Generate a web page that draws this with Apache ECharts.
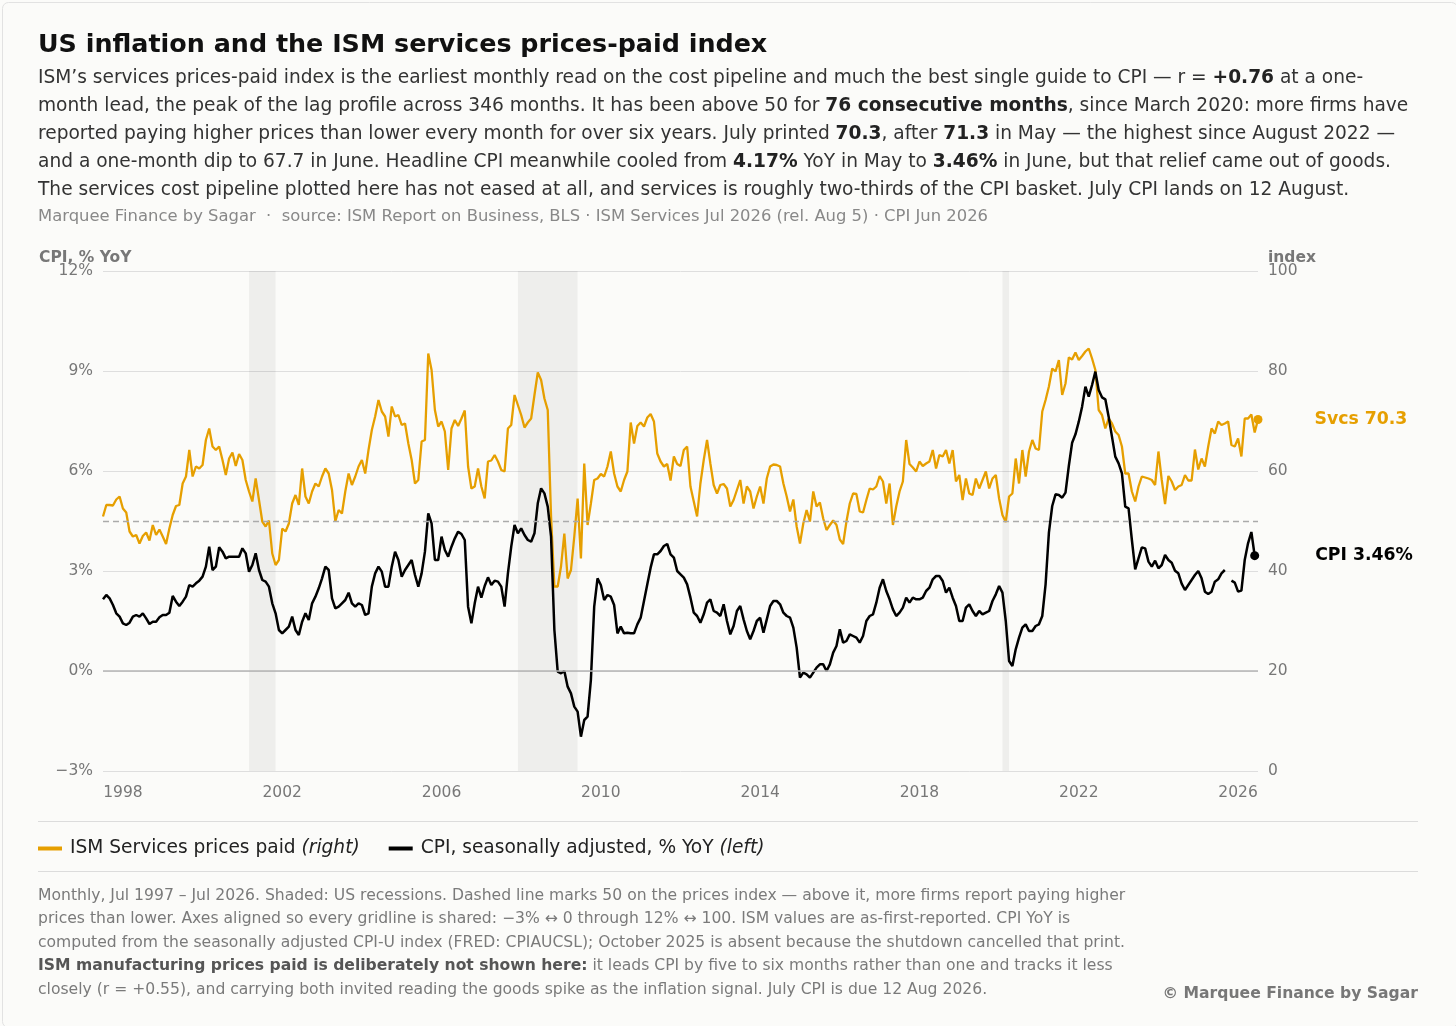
<!DOCTYPE html>
<html>
<head>
<meta charset="utf-8">
<title>US inflation and the ISM services prices-paid index</title>
<script src="https://cdn.jsdelivr.net/npm/echarts@6/dist/echarts.min.js"></script>
<style>
  html, body { margin: 0; padding: 0; background: #fbfbf9; }
  #chart { width: 1456px; height: 1026px; }
</style>
</head>
<body>
<div id="chart"></div>
<script>
// monthly, Jul 1997 .. Jul 2026
const firstYear = 1997, firstMonth = 7, monthCount = 349;

// ISM services prices paid index (right axis), one row per calendar year
const ism = [
  50.9, 53.2, 53.2, 53.1, 54.3, 54.9,
  52.5, 51.7, 47.9, 46.9, 47.2, 45.5, 47.0, 47.7, 46.1, 49.2, 47.2, 48.3,
  46.9, 45.4, 48.5, 51.2, 53.0, 53.2, 57.5, 58.9, 64.2, 58.9, 60.9, 60.5,
  61.2, 66.2, 68.5, 64.9, 64.2, 64.9, 62.2, 59.2, 62.5, 63.7, 61.0, 63.4,
  62.2, 58.2, 55.9, 53.9, 58.5, 54.2, 49.9, 48.9, 50.1, 43.5, 41.2, 42.2,
  48.5, 47.9, 49.5, 53.5, 55.2, 53.2, 60.5, 54.9, 53.5, 55.9, 57.5, 56.9,
  58.9, 60.5, 59.5, 56.2, 49.9, 52.2, 51.5, 55.9, 59.5, 57.2, 58.9, 60.9,
  62.2, 59.5, 64.2, 68.2, 70.9, 74.2, 71.9, 70.9, 66.9, 72.9, 70.9, 71.2,
  69.2, 69.5, 65.5, 62.2, 57.5, 58.2, 65.9, 66.2, 83.5, 80.2, 72.2, 68.9,
  69.9, 67.9, 60.2, 68.5, 70.2, 69.0, 70.5, 72.1, 60.9, 56.5, 56.9, 60.5,
  56.9, 54.5, 61.9, 62.1, 63.2, 61.9, 60.2, 59.9, 68.5, 69.2, 75.2, 73.2,
  71.2, 68.7, 69.7, 70.5, 75.2, 79.7, 78.2, 74.5, 72.2, 50.9, 36.9, 36.9,
  40.9, 47.5, 38.5, 40.2, 46.9, 54.5, 42.5, 61.5, 49.2, 53.5, 58.2, 58.5,
  59.4, 58.9, 60.9, 63.9, 59.5, 56.9, 55.9, 58.2, 59.9, 69.7, 65.5, 69.0,
  69.7, 68.9, 70.7, 71.4, 69.9, 63.5, 61.9, 60.9, 61.4, 58.1, 62.9, 61.4,
  61.0, 64.2, 64.9, 56.9, 53.9, 50.9, 57.5, 62.2, 66.2, 61.5, 57.2, 55.5,
  57.2, 57.4, 56.5, 52.9, 54.2, 56.2, 58.2, 53.5, 56.9, 55.9, 52.5, 54.9,
  56.9, 53.5, 58.5, 60.9, 61.3, 61.2, 60.9, 57.5, 54.9, 51.9, 54.3, 48.9,
  45.5, 49.5, 52.2, 49.9, 55.9, 52.9, 53.7, 50.5, 48.2, 49.2, 50.1, 49.2,
  46.3, 45.4, 49.9, 53.5, 55.5, 55.4, 51.9, 51.7, 54.2, 56.5, 56.3, 56.9,
  59.0, 57.9, 53.5, 57.5, 49.2, 52.9, 55.9, 57.9, 66.2, 61.4, 60.7, 59.9,
  61.9, 61.0, 61.5, 61.9, 64.2, 60.5, 63.2, 62.9, 64.2, 61.5, 64.2, 57.9,
  59.2, 54.2, 58.5, 55.5, 55.2, 58.5, 56.5, 58.2, 59.9, 56.5, 58.5, 59.2,
  54.5, 51.2, 49.8, 54.9, 55.5, 62.5, 57.5, 64.2, 58.9, 63.9, 66.2, 64.5,
  64.2, 71.9, 74.2, 76.9, 80.5, 79.9, 82.2, 75.2, 77.5, 82.7, 82.3, 83.7,
  82.2, 83.0, 83.9, 84.5, 82.5, 80.2, 72.2, 71.2, 68.5, 70.5, 69.5, 67.9,
  67.2, 64.9, 59.5, 59.5, 55.9, 53.9, 56.9, 58.9, 58.7, 58.5, 58.2, 57.2,
  63.9, 58.2, 53.4, 59.0, 57.9, 56.2, 56.9, 57.2, 59.2, 58.1, 58.1, 64.3,
  60.3, 62.5, 60.9, 64.9, 68.5, 67.5, 69.9, 69.2, 69.5, 69.9, 65.2, 64.9,
  66.5, 62.9, 70.5, 70.5, 71.3, 67.7, 70.3
];

// CPI, seasonally adjusted, % YoY (left axis); Oct 2025 missing, Jul 2026 not yet out
const cpi = [
  2.15, 2.28, 2.18, 1.98, 1.73, 1.63,
  1.43, 1.38, 1.45, 1.63, 1.68, 1.63, 1.73, 1.58, 1.41, 1.48, 1.48, 1.61,
  1.68, 1.68, 1.75, 2.25, 2.08, 1.95, 2.08, 2.23, 2.58, 2.53, 2.63, 2.71,
  2.83, 3.13, 3.73, 3.03, 3.13, 3.71, 3.58, 3.38, 3.43, 3.43, 3.43, 3.43,
  3.68, 3.53, 2.98, 3.18, 3.53, 3.03, 2.73, 2.68, 2.53, 2.03, 1.73, 1.23,
  1.13, 1.23, 1.33, 1.63, 1.23, 1.08, 1.48, 1.73, 1.53, 2.03, 2.23, 2.48,
  2.78, 3.13, 3.03, 2.18, 1.88, 1.93, 2.03, 2.13, 2.35, 2.03, 1.93, 2.03,
  1.98, 1.68, 1.73, 2.53, 2.93, 3.13, 2.98, 2.53, 2.53, 3.13, 3.58, 3.33,
  2.83, 3.03, 3.18, 3.33, 2.88, 2.53, 2.93, 3.58, 4.73, 4.43, 3.33, 3.33,
  4.03, 3.63, 3.43, 3.73, 3.98, 4.18, 4.11, 3.93, 1.93, 1.43, 2.03, 2.53,
  2.20, 2.55, 2.81, 2.58, 2.71, 2.68, 2.53, 1.93, 2.93, 3.73, 4.38, 4.13,
  4.28, 4.08, 3.93, 3.88, 4.13, 5.03, 5.48, 5.33, 4.93, 4.03, 1.23, -0.02,
  -0.07, 0.00, -0.47, -0.67, -1.07, -1.22, -1.97, -1.47, -1.37, -0.27, 1.93, 2.78,
  2.58, 2.13, 2.28, 2.23, 1.98, 1.13, 1.33, 1.13, 1.15, 1.13, 1.13, 1.40,
  1.60, 2.10, 2.60, 3.10, 3.50, 3.50, 3.60, 3.75, 3.81, 3.50, 3.40, 3.00,
  2.90, 2.80, 2.60, 2.20, 1.75, 1.65, 1.45, 1.70, 2.05, 2.15, 1.80, 1.75,
  1.65, 2.00, 1.50, 1.10, 1.35, 1.80, 1.95, 1.55, 1.20, 0.95, 1.20, 1.50,
  1.60, 1.15, 1.55, 1.95, 2.10, 2.10, 2.00, 1.75, 1.65, 1.60, 1.30, 0.70,
  -0.20, -0.05, -0.10, -0.20, -0.05, 0.10, 0.20, 0.20, 0.00, 0.20, 0.55, 0.75,
  1.25, 0.85, 0.90, 1.10, 1.05, 1.00, 0.85, 1.05, 1.50, 1.65, 1.70, 2.05,
  2.50, 2.75, 2.40, 2.15, 1.85, 1.65, 1.75, 1.90, 2.20, 2.05, 2.20, 2.15,
  2.15, 2.20, 2.40, 2.50, 2.75, 2.85, 2.85, 2.70, 2.35, 2.50, 2.20, 1.95,
  1.50, 1.50, 1.90, 2.00, 1.80, 1.65, 1.80, 1.70, 1.75, 1.80, 2.10, 2.30,
  2.55, 2.35, 1.50, 0.30, 0.15, 0.65, 1.00, 1.30, 1.40, 1.20, 1.20, 1.35,
  1.40, 1.65, 2.60, 4.15, 4.95, 5.30, 5.28, 5.20, 5.35, 6.15, 6.85, 7.10,
  7.48, 7.93, 8.53, 8.23, 8.58, 8.98, 8.43, 8.21, 8.15, 7.63, 7.03, 6.43,
  6.23, 5.93, 4.93, 4.88, 3.93, 3.05, 3.38, 3.71, 3.68, 3.28, 3.13, 3.31,
  3.08, 3.18, 3.48, 3.33, 3.25, 3.01, 2.93, 2.62, 2.43, 2.58, 2.73, 2.88,
  3.00, 2.78, 2.38, 2.31, 2.38, 2.68, 2.75, 2.93, 3.03, null, 2.71, 2.65,
  2.38, 2.41, 3.33, 3.83, 4.17, 3.46, null
];

// US recessions (start, end month)
const recessions = [['2001-03', '2001-11'], ['2007-12', '2009-06'], ['2020-02', '2020-04']];

const cpiTicks = [-3, 0, 3, 6, 9, 12];
const ismTicks = [0, 20, 40, 60, 80, 100];

const months = [];
for (let k = 0; k < monthCount; k++) {
  const m0 = firstMonth - 1 + k;
  const y = firstYear + Math.floor(m0 / 12);
  const m = (m0 % 12) + 1;
  months.push(y + '-' + (m < 10 ? '0' : '') + m);
}

const ORANGE = '#E69F00';
const FONT = 'DejaVu Sans';

let lastCpiIdx = cpi.length - 1;
while (cpi[lastCpiIdx] == null) lastCpiIdx--;
const lastIsmIdx = ism.length - 1;

const chart = echarts.init(document.getElementById('chart'), null, { renderer: 'canvas' });

const paragraph = [
  'ISM\u2019s services prices-paid index is the earliest monthly read on the cost pipeline and much the best single guide to CPI \u2014 r = {b|+0.76} at a one-',
  'month lead, the peak of the lag profile across 346 months. It has been above 50 for {b|76 consecutive months}, since March 2020: more firms have',
  'reported paying higher prices than lower every month for over six years. July printed {b|70.3}, after {b|71.3} in May \u2014 the highest since August 2022 \u2014',
  'and a one-month dip to 67.7 in June. Headline CPI meanwhile cooled from {b|4.17%} YoY in May to {b|3.46%} in June, but that relief came out of goods.',
  'The services cost pipeline plotted here has not eased at all, and services is roughly two-thirds of the CPI basket. July CPI lands on 12 August.'
].join('\n');

const footnote = [
  'Monthly, Jul 1997 \u2013 Jul 2026. Shaded: US recessions. Dashed line marks 50 on the prices index \u2014 above it, more firms report paying higher',
  'prices than lower. Axes aligned so every gridline is shared: \u22123% \u2194 0 through 12% \u2194 100. ISM values are as-first-reported. CPI YoY is',
  'computed from the seasonally adjusted CPI-U index (FRED: CPIAUCSL); October 2025 is absent because the shutdown cancelled that print.',
  '{b|ISM manufacturing prices paid is deliberately not shown here:} it leads CPI by five to six months rather than one and tracks it less',
  'closely (r = +0.55), and carrying both invited reading the goods spike as the inflation signal. July CPI is due 12 Aug 2026.'
].join('\n');

chart.setOption({
  animation: false,
  backgroundColor: '#fbfbf9',
  textStyle: { fontFamily: FONT },
  grid: { left: 103, right: 198, top: 271, bottom: 255, containLabel: false },
  legend: {
    left: 38,
    top: 839,
    padding: 0,
    itemWidth: 24,
    itemHeight: 4,
    itemGap: 29,
    icon: 'rect',
    data: ['ISM Services prices paid', 'CPI, seasonally adjusted, % YoY'],
    formatter: function (name) {
      return '{n|' + name + '} {i|' + (name.indexOf('ISM') === 0 ? '(right)' : '(left)') + '}';
    },
    textStyle: {
      fontSize: 18.6,
      color: '#222',
      rich: {
        n: { fontSize: 18.6, color: '#222', fontFamily: FONT, padding: [0, 0, 0, 3] },
        i: { fontSize: 18.6, color: '#222', fontStyle: 'italic', fontFamily: FONT }
      }
    }
  },
  xAxis: {
    type: 'category',
    data: months,
    boundaryGap: false,
    axisLine: { show: false },
    axisTick: { show: false },
    splitLine: { show: false },
    axisLabel: {
      color: '#777',
      fontSize: 15.5,
      margin: 14,
      interval: function (idx, val) {
        return val.slice(5) === '01' && (parseInt(val.slice(0, 4), 10) - 1998) % 4 === 0;
      },
      formatter: function (val) { return val.slice(0, 4); }
    }
  },
  yAxis: [
    {
      type: 'value',
      position: 'left',
      min: cpiTicks[0],
      max: cpiTicks[cpiTicks.length - 1],
      interval: 3,
      axisLine: { show: false },
      axisTick: { show: false },
      axisLabel: {
        color: '#777',
        fontSize: 15.5,
        margin: 10,
        padding: [3, 0, 0, 0],
        formatter: function (v) { return (v < 0 ? '\u2212' : '') + Math.abs(v) + '%'; }
      },
      splitLine: { show: true, lineStyle: { color: '#dedede', width: 1 } }
    },
    {
      type: 'value',
      position: 'right',
      min: ismTicks[0],
      max: ismTicks[ismTicks.length - 1],
      interval: 20,
      axisLine: { show: false },
      axisTick: { show: false },
      axisLabel: { color: '#777', fontSize: 15.5, margin: 10, padding: [3, 0, 0, 0] },
      splitLine: { show: false }
    }
  ],
  series: [
    {
      name: 'ISM Services prices paid',
      type: 'line',
      yAxisIndex: 1,
      data: ism,
      showSymbol: false,
      color: ORANGE,
      lineStyle: { color: ORANGE, width: 2.3 },
      z: 3,
      markArea: {
        silent: true,
        itemStyle: { color: 'rgba(0,0,0,0.05)' },
        data: recessions.map(r => [{ xAxis: r[0] }, { xAxis: r[1] }])
      },
      markLine: {
        silent: true,
        symbol: 'none',
        label: { show: false },
        lineStyle: { color: '#aaa', width: 1.3, type: [6, 4] },
        data: [{ yAxis: 50 }]
      },
      markPoint: {
        silent: true,
        symbol: 'circle',
        symbolSize: 9,
        itemStyle: { color: ORANGE },
        label: {
          show: true,
          position: 'right',
          distance: 52,
          color: ORANGE,
          fontWeight: 'bold',
          fontSize: 17.3,
          formatter: 'Svcs ' + ism[lastIsmIdx].toFixed(1)
        },
        data: [{ coord: [months[lastIsmIdx], ism[lastIsmIdx]] }]
      }
    },
    {
      name: 'CPI, seasonally adjusted, % YoY',
      type: 'line',
      yAxisIndex: 0,
      data: cpi,
      connectNulls: false,
      showSymbol: false,
      color: '#000',
      lineStyle: { color: '#000', width: 2.5 },
      z: 4,
      markLine: {
        silent: true,
        symbol: 'none',
        label: { show: false },
        lineStyle: { color: '#b5b5b5', width: 1.6, type: 'solid' },
        data: [{ yAxis: 0 }]
      },
      markPoint: {
        silent: true,
        symbol: 'circle',
        symbolSize: 9,
        itemStyle: { color: '#000' },
        label: {
          show: true,
          position: 'right',
          distance: 56,
          color: '#000',
          fontWeight: 'bold',
          fontSize: 17.3,
          formatter: 'CPI ' + cpi[lastCpiIdx].toFixed(2) + '%'
        },
        data: [{ coord: [months[lastCpiIdx], cpi[lastCpiIdx]] }]
      }
    }
  ],
  graphic: [
    {
      type: 'text', left: 38, top: 33,
      style: { text: 'US inflation and the ISM services prices-paid index', font: 'bold 25.4px "DejaVu Sans"', fill: '#111' }
    },
    {
      type: 'text', left: 38, top: 64,
      style: {
        text: paragraph,
        font: '18.6px "DejaVu Sans"',
        fill: '#333',
        lineHeight: 28,
        rich: {
          b: { font: 'bold 18.6px "DejaVu Sans"', fill: '#222', lineHeight: 28 }
        }
      }
    },
    {
      type: 'text', left: 38, top: 209,
      style: {
        text: 'Marquee Finance by Sagar  \u00b7  source: ISM Report on Business, BLS \u00b7 ISM Services Jul 2026 (rel. Aug 5) \u00b7 CPI Jun 2026',
        font: '16.4px "DejaVu Sans"', fill: '#888'
      }
    },
    {
      type: 'text', left: 39, top: 250,
      style: { text: 'CPI, % YoY', font: 'bold 15.5px "DejaVu Sans"', fill: '#777' }
    },
    {
      type: 'text', left: 1268, top: 250,
      style: { text: 'index', font: 'bold 15.5px "DejaVu Sans"', fill: '#777' }
    },
    {
      type: 'line', shape: { x1: 38, y1: 821.5, x2: 1418, y2: 821.5 },
      style: { stroke: '#dcdcdc', lineWidth: 1 }
    },
    {
      type: 'line', shape: { x1: 38, y1: 871.5, x2: 1418, y2: 871.5 },
      style: { stroke: '#dcdcdc', lineWidth: 1 }
    },
    {
      type: 'text', left: 38, top: 884,
      style: {
        text: footnote,
        font: '15.6px "DejaVu Sans"',
        fill: '#7a7a7a',
        lineHeight: 23.5,
        rich: {
          b: { font: 'bold 15.6px "DejaVu Sans"', fill: '#555', lineHeight: 23.5 }
        }
      }
    },
    {
      type: 'text', right: 38, top: 986,
      style: { text: '\u00a9 Marquee Finance by Sagar', font: 'bold 15.6px "DejaVu Sans"', fill: '#777' }
    },
    {
      type: 'rect', left: 0, top: 0,
      shape: { width: 1455, height: 1025, r: 6 },
      style: { fill: 'none', stroke: '#e2e2e2', lineWidth: 1 },
      silent: true
    }
  ]
});
</script>
</body>
</html>
